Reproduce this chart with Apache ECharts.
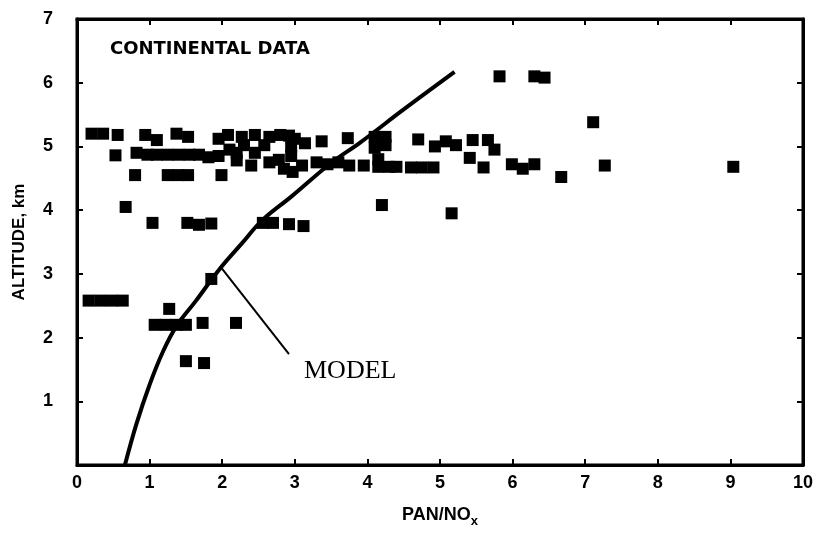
<!DOCTYPE html>
<html>
<head>
<meta charset="utf-8">
<script src="https://cdn.jsdelivr.net/npm/echarts@6/dist/echarts.min.js"></script>
<style>
  html, body { margin: 0; padding: 0; background: #fff; }
  #chart { width: 816px; height: 533px; }
</style>
</head>
<body>
<div id="chart"></div>
<script>
// measured points, PAN/NOx vs altitude (km)
const panData = [
  0.16, 0.32, 0.48, 0.63,
  1.07, 1.22, 1.37, 1.5, 1.73, 2.19, 1.27, 1.85, 1.5, 1.75,
  0.67, 1.04, 1.52, 1.68, 1.85, 2.56, 2.7, 2.92, 3.12, 4.2, 5.16,
  0.2, 0.36, 0.56, 0.94, 1.1, 1.37, 1.53,
  0.53, 0.82, 0.97, 1.1, 1.25, 1.4, 1.55, 1.68, 1.81,
  0.8, 1.25, 1.4, 1.53, 1.99,
  1.95, 2.08, 2.27, 2.45, 2.65, 2.8, 2.92, 3.0,
  1.95, 2.1, 2.2, 2.3, 2.45, 2.58, 2.95, 2.95, 3.14, 3.37, 3.73,
  2.2, 2.4, 2.65, 2.78, 2.85, 2.97,
  3.1, 3.3, 3.45, 3.6, 3.75, 3.95,
  4.1, 4.25, 4.1, 4.25, 4.15, 4.15, 4.3, 4.4,
  4.6, 4.75, 4.91,
  4.7, 4.93, 5.08, 5.22, 5.45, 5.66, 5.75, 5.41, 5.6,
  5.99, 6.14, 6.3,
  6.67, 7.27, 9.04, 7.11,
  5.82, 6.3, 6.44
];
const altData = [
  2.58, 2.58, 2.58, 2.58,
  2.2, 2.2, 2.2, 2.2, 2.23, 2.23, 2.45, 2.92, 1.63, 1.6,
  4.05, 3.8, 3.8, 3.77, 3.79, 3.8, 3.8, 3.78, 3.75, 4.08, 3.95,
  5.2, 5.2, 5.18, 5.18, 5.1, 5.2, 5.15,
  4.86, 4.9, 4.87, 4.87, 4.87, 4.87, 4.87, 4.87, 4.83,
  4.55, 4.55, 4.55, 4.55, 4.55,
  5.12, 5.18, 5.15, 5.18, 5.15, 5.18, 5.17, 5.12,
  4.85, 4.95, 4.9, 5.02, 4.9, 5.02, 5.0, 4.85, 5.05, 5.08, 5.13,
  4.78, 4.7, 4.75, 4.79, 4.65, 4.6,
  4.7, 4.75, 4.72, 4.75, 4.7, 4.7,
  5.15, 5.15, 4.98, 5.02, 4.8, 4.68, 4.68, 4.68,
  4.67, 4.67, 4.67,
  5.11, 5.0, 5.08, 5.02, 5.1, 5.1, 4.95, 4.82, 4.67,
  4.72, 4.65, 4.72,
  4.52, 4.7, 4.68, 5.38,
  6.1, 6.1, 6.08
];

// model curve
const modelPan = [0.66, 0.82, 1.0, 1.18, 1.37, 1.64, 1.96, 2.28, 2.55, 2.96, 3.5, 3.9, 4.5, 5.2];
const modelAlt = [0, 0.65, 1.26, 1.77, 2.18, 2.58, 3.07, 3.49, 3.84, 4.22, 4.74, 5.06, 5.58, 6.17];

// leader line for the MODEL label
const leaderPan = [1.97, 2.92];
const leaderAlt = [3.12, 1.74];

const xTicks = ['0', '1', '2', '3', '4', '5', '6', '7', '8', '9', '10'];
const yTicks = ['', '1', '2', '3', '4', '5', '6', '7'];

const zip = (a, b) => a.map((v, i) => [v, b[i]]);

const font = '"Liberation Sans", Arial, sans-serif';
const frame = () => ({ show: true, onZero: false, lineStyle: { color: '#000', width: 3 } });
const innerTick = () => ({ show: true, inside: true, length: 6, lineStyle: { color: '#000', width: 2 } });

const chart = echarts.init(document.getElementById('chart'));
chart.setOption({
  animation: false,
  backgroundColor: '#fff',
  // grid border doubles as the box frame
  grid: { left: 77, right: 9, top: 19, bottom: 58, show: true, borderColor: '#000', borderWidth: 3, backgroundColor: 'transparent' },
  xAxis: [{
    type: 'value', min: 0, max: 10, interval: 1,
    axisLine: frame(), axisTick: innerTick(), splitLine: { show: false },
    axisLabel: {
      margin: 9, color: '#000', fontSize: 18, fontWeight: 'bold', fontFamily: font,
      formatter: v => xTicks[Math.round(v)]
    },
    name: '{a|PAN/NO}{s|x}', nameLocation: 'middle', nameGap: 38,
    nameTextStyle: {
      rich: {
        a: { fontSize: 18, fontWeight: 'bold', color: '#000' },
        s: { fontSize: 13, fontWeight: 'bold', color: '#000', padding: [12, 0, 0, 0] }
      }
    }
  }, {
    type: 'value', position: 'top', min: 0, max: 10, interval: 1,
    axisLine: frame(), axisTick: innerTick(), axisLabel: { show: false }, splitLine: { show: false }
  }],
  yAxis: [{
    type: 'value', min: 0, max: 7, interval: 1,
    axisLine: frame(), axisTick: innerTick(), splitLine: { show: false },
    axisLabel: {
      margin: 24, color: '#000', fontSize: 18, fontWeight: 'bold', fontFamily: font,
      formatter: v => yTicks[Math.round(v)]
    },
    name: 'ALTITUDE, km', nameLocation: 'middle', nameRotate: 90, nameGap: 49,
    nameTextStyle: { fontSize: 17, fontWeight: 'bold', color: '#000' }
  }, {
    type: 'value', position: 'right', min: 0, max: 7, interval: 1,
    axisLine: frame(), axisTick: innerTick(), axisLabel: { show: false }, splitLine: { show: false }
  }],
  series: [{
    type: 'scatter',
    data: zip(panData, altData),
    symbol: 'rect',
    symbolSize: 12,
    itemStyle: { color: '#000', opacity: 1 }
  }, {
    // empty series so the top and right frame axes are drawn
    type: 'scatter', xAxisIndex: 1, yAxisIndex: 1, data: []
  }, {
    type: 'line',
    data: zip(modelPan, modelAlt),
    smooth: 0.4,
    showSymbol: false,
    lineStyle: { color: '#000', width: 4 }
  }, {
    type: 'line',
    data: zip(leaderPan, leaderAlt),
    showSymbol: false,
    lineStyle: { color: '#000', width: 2 }
  }],
  graphic: [{
    type: 'text', left: 110, top: 40,
    style: { text: 'CONTINENTAL DATA', fill: '#000', font: 'bold 18px "DejaVu Sans", sans-serif' }
  }, {
    type: 'text', left: 304, top: 358,
    style: { text: 'MODEL', fill: '#000', font: '26px "Liberation Serif", serif' }
  }]
});
</script>
</body>
</html>
